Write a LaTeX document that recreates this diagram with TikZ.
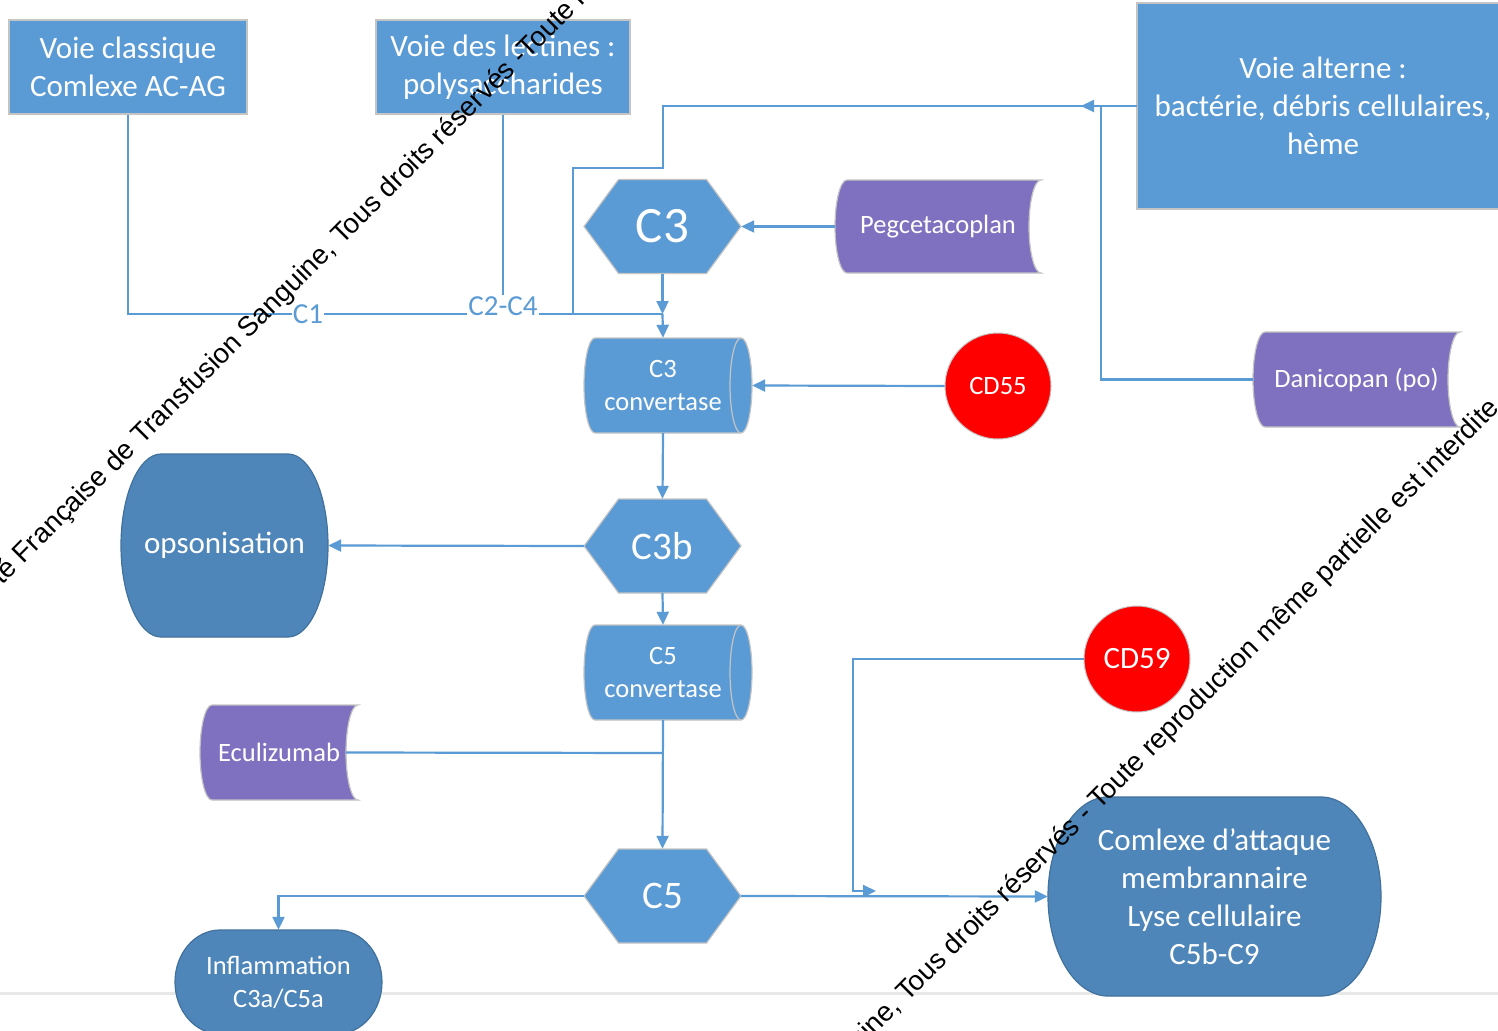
\documentclass[tikz,border=0pt]{standalone}
\usepackage{fontspec}
\setmainfont{Carlito}
\newfontfamily\wmfont{Liberation Sans}
\usetikzlibrary{arrows.meta}
\definecolor{boxblue}{HTML}{5B9BD5}
\definecolor{termblue}{HTML}{4E86BA}
\definecolor{termedge}{HTML}{41719C}
\definecolor{purp}{HTML}{7F71BF}
\definecolor{edgegray}{HTML}{C4C4C4}
\definecolor{cdred}{HTML}{FF0000}

\newcommand\hexshape[2]{%
  \path[hexsty] ({#1-78.5},#2) -- ({#1-44},{#2-47}) -- ({#1+44},{#2-47}) -- ({#1+78.5},#2) -- ({#1+44},{#2+47}) -- ({#1-44},{#2+47}) -- cycle;}

\newcommand\storedshape[4]{%
  \pgfmathsetmacro\SDm{(#2+#4)/2}%
  \pgfmathsetmacro\SDk{0.5523*(#4-#2)/2}%
  \path[purpsty] ({#1+12},#2) -- (#3,#2)
    .. controls ({#3-6.6},#2) and ({#3-12},{\SDm-\SDk}) .. ({#3-12},\SDm)
    .. controls ({#3-12},{\SDm+\SDk}) and ({#3-6.6},#4) .. (#3,#4)
    -- ({#1+12},#4)
    .. controls ({#1+5.4},#4) and (#1,{\SDm+\SDk}) .. (#1,\SDm)
    .. controls (#1,{\SDm-\SDk}) and ({#1+5.4},#2) .. ({#1+12},#2) -- cycle;}

\newcommand\dashape[4]{%
  \pgfmathsetmacro\DAm{(#2+#4)/2}%
  \pgfmathsetmacro\DAk{0.5523*(#4-#2)/2}%
  \path[dasty] ({#1+11},#2) -- ({#3-11},#2)
    .. controls ({#3-4.9},#2) and (#3,{\DAm-\DAk}) .. (#3,\DAm)
    .. controls (#3,{\DAm+\DAk}) and ({#3-4.9},#4) .. ({#3-11},#4)
    -- ({#1+11},#4)
    .. controls ({#1+4.9},#4) and (#1,{\DAm+\DAk}) .. (#1,\DAm)
    .. controls (#1,{\DAm-\DAk}) and ({#1+4.9},#2) .. ({#1+11},#2) -- cycle;
  \draw[edgegray, line width=1.2pt] ({#3-11},#2)
    .. controls ({#3-17.1},#2) and ({#3-22},{\DAm-\DAk}) .. ({#3-22},\DAm)
    .. controls ({#3-22},{\DAm+\DAk}) and ({#3-17.1},#4) .. ({#3-11},#4);}

\newcommand\termshape[5]{%
  \pgfmathsetmacro\TMm{(#2+#4)/2}%
  \pgfmathsetmacro\TMk{0.5523*(#4-#2)/2}%
  \pgfmathsetmacro\TMc{0.5523*#5}%
  \path[termsty] ({#1+#5},#2) -- ({#3-#5},#2)
    .. controls ({#3-#5+\TMc},#2) and (#3,{\TMm-\TMk}) .. (#3,\TMm)
    .. controls (#3,{\TMm+\TMk}) and ({#3-#5+\TMc},#4) .. ({#3-#5},#4)
    -- ({#1+#5},#4)
    .. controls ({#1+#5-\TMc},#4) and (#1,{\TMm+\TMk}) .. (#1,\TMm)
    .. controls (#1,{\TMm-\TMk}) and ({#1+#5-\TMc},#2) .. ({#1+#5},#2) -- cycle;}

\begin{document}
\begin{tikzpicture}[x=1pt,y=-1pt,
  hexsty/.style={fill=boxblue, draw=edgegray, line width=1.2pt},
  purpsty/.style={fill=purp, draw=edgegray, line width=1.2pt},
  dasty/.style={fill=boxblue, draw=edgegray, line width=1.2pt},
  termsty/.style={fill=termblue, draw=termedge, line width=1.2pt},
  boxsty/.style={fill=boxblue, draw=edgegray, line width=1.2pt},
  tx/.style={text=white, align=center, inner sep=0pt},
  fa/.style={font=\fontsize{31}{38}\selectfont},
  fb/.style={font=\fontsize{26.5}{33}\selectfont},
  fc/.style={font=\fontsize{39}{44}\selectfont},
  fd/.style={font=\fontsize{51}{56}\selectfont},
  circ/.style={circle, fill=cdred, draw=edgegray, line width=1pt, minimum size=106pt, inner sep=0pt, text=white},
  conn/.style={draw=boxblue, line width=2.2pt},
  arr/.style={conn, -{Triangle[length=13pt,width=12pt]}},
  lab/.style={text=boxblue, fill=white, inner sep=1pt, font=\fontsize{29}{32}\selectfont},
  wm/.style={text=black, inner sep=0pt, font=\wmfont\fontsize{27.6}{30}\selectfont}]

\useasboundingbox (0,0) rectangle (1498,1030);
\clip (0,0) rectangle (1498,1030);
\fill[white] (0,0) rectangle (1498,1030);

% faint page edge line
\draw[black!9, line width=3pt] (0,993) -- (1498,993);

% ---------- shapes ----------
\hexshape{662.5}{226.5}
\hexshape{662.5}{546}
\hexshape{662.5}{896}
\storedshape{835}{180}{1041}{273}
\storedshape{1253}{332}{1460}{427}
\storedshape{200}{705}{358}{800}
\dashape{584}{338}{752}{433}
\dashape{584}{625}{752}{720}
\termshape{121}{454}{328}{637}{40}
\termshape{175}{930}{382}{1034}{45}
\termshape{1048}{797}{1381}{996}{60}

% ---------- nodes ----------
\node[boxsty, tx, fa, minimum width=238pt, minimum height=94pt] (vc) at (128,67) {Voie classique\\Comlexe AC-AG};
\node[boxsty, tx, fa, minimum width=254pt, minimum height=94pt] (vl) at (503,67) {Voie des lectines :\\polysaccharides};
\node[boxsty, tx, minimum width=372pt, minimum height=206pt] (vabox) at (1323,106) {};
\node[tx, fa] (va) at (1323,106) {Voie alterne :\\bactérie, débris cellulaires,\\hème};
\coordinate (vaw) at (1137,106);

\node[tx, fd, minimum width=157pt, minimum height=94pt] (c3) at (662.5,226.5) {C3};
\node[tx, fc, minimum width=157pt, minimum height=94pt] (c3b) at (662.5,546) {C3b};
\node[tx, fc, minimum width=157pt, minimum height=94pt] (c5) at (662.5,896) {C5};
\node[tx, fb, minimum width=206pt, minimum height=93pt] (peg) at (938,226.5) {Pegcetacoplan};
\node[tx, fb, minimum width=207pt, minimum height=95pt] (dan) at (1356.5,379.5) {Danicopan (po)};
\node[tx, fb, minimum width=158pt, minimum height=95pt] (ecu) at (279,752.5) {Eculizumab};
\node[tx, fb, minimum width=178pt, minimum height=95pt] (c3cv) at (663,385.5) {C3\\convertase};
\node[tx, fb, minimum width=178pt, minimum height=95pt] (c5cv) at (663,672.5) {C5\\convertase};
\node[tx, fa, minimum width=207pt, minimum height=183pt] (ops) at (224.5,545.5) {opsonisation};
\node[tx, fb, minimum width=207pt, minimum height=104pt] (infl) at (278.5,982) {Inflammation\\C3a/C5a};
\node[tx, fa, minimum width=333pt, minimum height=199pt] (cmx) at (1214.5,896.5) {Comlexe d’attaque\\membrannaire\\Lyse cellulaire\\C5b-C9};
\node[circ, fb] (cd55) at (998,386) {CD55};
\node[circ, fa] (cd59) at (1137,659) {CD59};

% ---------- connectors ----------
\coordinate (j1) at (662.5,314);
\coordinate (j2) at (663,753);
\coordinate (a1) at (663,106);
\coordinate (a2) at (573,168);
\coordinate (d1) at (1101,106);
\coordinate (d2) at (1081,106);
\coordinate (k1) at (853,891);
\coordinate (k2) at (876,891);

\draw[conn] (vc.south) |- (j1);
\draw[conn] (vaw) -- (a1) |- (a2) |- (j1);
\draw[arr] (dan.west) -| (d1) -- (d2);
\draw[arr] (c3.south) -- (j1);
\draw[arr] (j1) -- (c3cv.north);
\draw[arr] (peg.west) -- (c3.east);
\draw[arr] (cd55.west) -- (c3cv.east);
\draw[arr] (c3cv.south) -- (c3b.north);
\draw[arr] (c3b.west) -- (ops.east);
\draw[arr] (c3b.south) -- (c5cv.north);
\draw[arr] (c5cv.south) -- (c5.north);
\draw[conn] ([xshift=-12pt]ecu.east) -- (j2);
\draw[arr] (c5.west) -| (infl.north);
\draw[arr] (c5.east) -- (cmx.west);
\draw[arr] (cd59.west) -| (k1) -- (k2);

\node[lab] (c1) at (308,314) {C1};
\node[lab] (c24) at (503,306) {C2-C4};
\draw[conn] (vl.south) -- (c24.north);

% ---------- watermark ----------
\node[wm, anchor=base west, rotate=45] (wm1) at (342,246) {\llap{Société Française de Transfusion Sanguine, }Tous droits réservés -Toute reproduction même partielle est interdite};
\node[wm, anchor=base west, rotate=45] (wm2) at (907,1003) {\llap{Société Française de Transfusion Sanguine, }Tous droits réservés - Toute reproduction même partielle est interdite};
\end{tikzpicture}
\end{document}
